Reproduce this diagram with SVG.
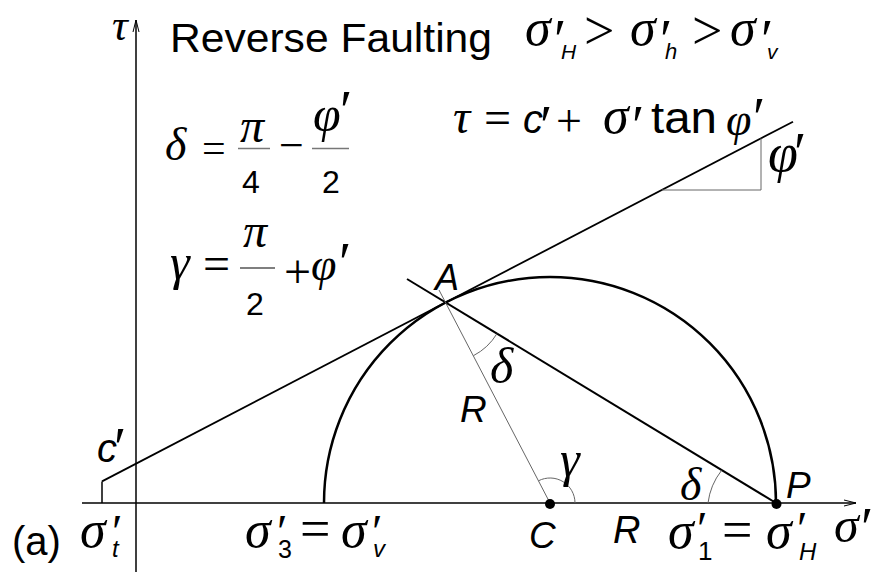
<svg xmlns="http://www.w3.org/2000/svg" width="873" height="572" viewBox="0 0 873 572">
<style>
.g{font-family:"Liberation Serif","DejaVu Serif",serif;font-style:italic}
.o{font-family:"Liberation Serif","DejaVu Serif",serif}
.s{font-family:"Liberation Sans","DejaVu Sans",sans-serif}
.si{font-family:"Liberation Sans","DejaVu Sans",sans-serif;font-style:italic}
.pr{font-family:"Liberation Serif","DejaVu Serif",serif;font-size:56px}
.pb{font-family:"Liberation Serif","DejaVu Serif",serif;font-size:48px}
text{fill:#000}
.ax{stroke:#000;stroke-width:1.5;fill:none}
.thin{stroke:#666;stroke-width:1;fill:none}
</style>
<defs>
<marker id="arr" viewBox="0 0 12 8" refX="12" refY="4" markerWidth="12" markerHeight="8" markerUnits="userSpaceOnUse" orient="auto"><path d="M0,1 L12,4 L0,7" fill="none" stroke="#000" stroke-width="1"/></marker>
</defs>
<rect width="873" height="572" fill="#fff"/>
<g id="connectors">
<line class="ax" x1="82" y1="503" x2="856" y2="503" marker-end="url(#arr)"/>
<line class="ax" x1="136" y1="572" x2="136" y2="20" marker-end="url(#arr)"/>
<line x1="102" y1="481.4" x2="793" y2="121.7" stroke="#000" stroke-width="1.8"/>
<line x1="102" y1="481.4" x2="102" y2="503" stroke="#000" stroke-width="1.5"/>
<path class="thin" d="M661.8,190 H761 V138.4"/>
<path d="M324,503 A226,226 0 0 1 776,503" fill="none" stroke="#000" stroke-width="2.5"/>
<line x1="407" y1="279" x2="776" y2="503" stroke="#000" stroke-width="2"/>
<line class="thin" x1="550" y1="503" x2="439" y2="290"/>
<path class="thin" d="M473.4,355.7 A60,60 0 0 0 497,333.6"/>
<path class="thin" d="M538.5,480.8 A25,25 0 0 1 575,503"/>
<path class="thin" d="M708,503 A66,66 0 0 1 721.5,470.5"/>
</g>
<g id="node-C"><circle cx="550" cy="504" r="5"/><text class="si" x="529" y="548" font-size="37">C</text></g>
<g id="node-P"><circle cx="776.5" cy="504" r="5"/><text class="si" x="786" y="498" font-size="37">P</text></g>
<g id="node-A"><text class="si" x="435" y="290" font-size="36">A</text></g>
<g id="labels">
<text class="g" x="112" y="40" font-size="44">τ</text>
<text class="s" x="170" y="52" font-size="41" textLength="322" lengthAdjust="spacingAndGlyphs">Reverse Faulting</text>
<text class="g" x="525" y="45" font-size="52">σ</text><text class="pr" x="554" y="59">′</text><text class="si" x="561" y="59" font-size="21">H</text>
<text class="o" x="584" y="49" font-size="54">&gt;</text>
<text class="g" x="630" y="45" font-size="52">σ</text><text class="pr" x="660" y="59">′</text><text class="si" x="665" y="59" font-size="22">h</text>
<text class="o" x="692" y="49" font-size="54">&gt;</text>
<text class="g" x="730" y="45" font-size="52">σ</text><text class="pr" x="761" y="59">′</text><text class="si" x="767" y="59" font-size="21">v</text>
<text class="g" x="453" y="133" font-size="48">τ</text>
<text class="o" x="484" y="134" font-size="48">=</text>
<text class="si" x="523" y="133" font-size="40">c</text><text class="pr" x="540" y="145">′</text>
<text class="o" x="556" y="136" font-size="46">+</text>
<text class="g" x="603" y="133" font-size="52">σ</text><text class="pr" x="632" y="145">′</text>
<text class="s" x="651" y="133" font-size="44" textLength="66" lengthAdjust="spacingAndGlyphs">tan</text>
<text class="g" x="726" y="135" font-size="46">φ</text><text class="pr" x="753" y="137">′</text>
<text class="g" x="768" y="171" font-size="54">φ</text><text class="pr" x="794" y="172">′</text>
<text class="g" x="165" y="160" font-size="46">δ</text>
<text class="o" x="202" y="162" font-size="42">=</text>
<text class="g" x="240" y="142" font-size="48">π</text>
<line x1="238" y1="148.5" x2="270" y2="148.5" stroke="#777" stroke-width="1.5"/>
<text class="s" x="242" y="193" font-size="32">4</text>
<text class="o" x="279" y="160" font-size="44">−</text>
<text class="g" x="313" y="131" font-size="50">φ</text><text class="pr" x="340" y="130">′</text>
<line x1="312" y1="148.5" x2="349" y2="148.5" stroke="#777" stroke-width="1.5"/>
<text class="s" x="322" y="193" font-size="32">2</text>
<text class="g" x="170" y="279" font-size="50">γ</text>
<text class="o" x="203" y="280" font-size="48">=</text>
<text class="g" x="243" y="247" font-size="48">π</text>
<line x1="240" y1="268" x2="275" y2="268" stroke="#000" stroke-width="1.2"/>
<text class="s" x="246" y="315" font-size="32">2</text>
<text class="o" x="284" y="288" font-size="48">+</text>
<text class="g" x="311" y="280" font-size="46">φ</text><text class="pr" x="339" y="282">′</text>
<text class="g" x="490" y="383" font-size="50">δ</text>
<text class="si" x="460" y="422" font-size="37">R</text>
<text class="g" x="560" y="476" font-size="50">γ</text>
<text class="g" x="680" y="500" font-size="46">δ</text>
<text class="si" x="613" y="543" font-size="38">R</text>
<text class="g" x="668" y="548" font-size="52">σ</text><text class="pb" x="697" y="545">′</text><text class="s" x="698" y="560" font-size="26">1</text>
<text class="o" x="722" y="548" font-size="54">=</text>
<text class="g" x="766" y="548" font-size="52">σ</text><text class="pb" x="797" y="545">′</text><text class="si" x="799" y="560" font-size="24">H</text>
<text class="g" x="834" y="542" font-size="50">σ</text><text class="pr" x="861" y="547">′</text>
<text class="s" x="12" y="555" font-size="40">(a)</text>
<text class="g" x="80" y="547" font-size="52">σ</text><text class="pb" x="112" y="548">′</text><text class="si" x="112" y="557" font-size="24">t</text>
<text class="g" x="245" y="547" font-size="52">σ</text><text class="pb" x="277" y="548">′</text><text class="s" x="278" y="558" font-size="25">3</text>
<text class="o" x="300" y="547" font-size="54">=</text>
<text class="g" x="341" y="547" font-size="52">σ</text><text class="pb" x="372" y="548">′</text><text class="si" x="373" y="557" font-size="24">v</text>
<text class="si" x="97" y="462" font-size="40">c</text><text class="pr" x="114" y="467">′</text>
</g>
</svg>
